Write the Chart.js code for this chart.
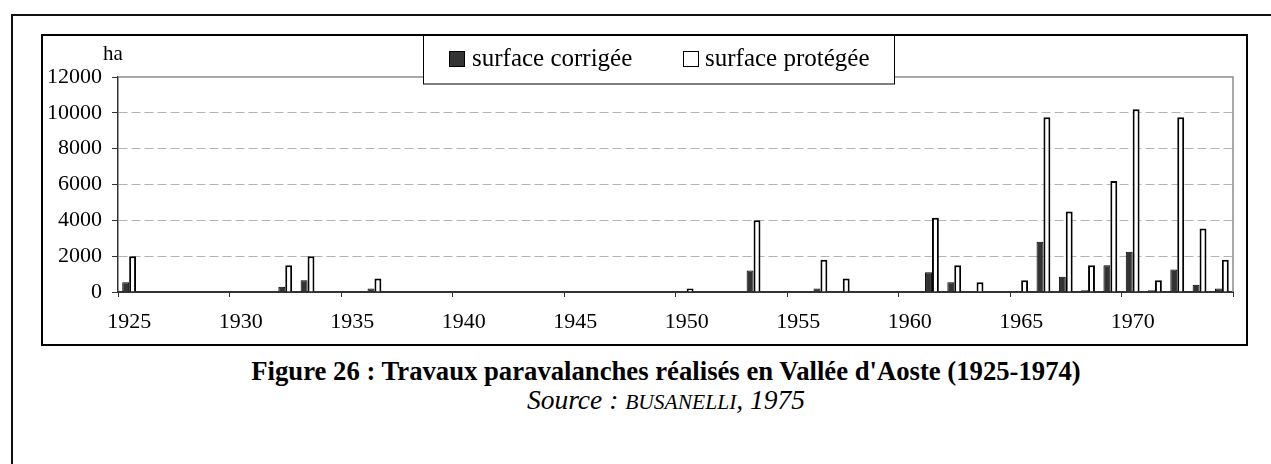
<!DOCTYPE html>
<html>
<head>
<meta charset="utf-8">
<script src="https://cdn.jsdelivr.net/npm/chart.js@4.4.0/dist/chart.umd.min.js"></script>
<style>
  html, body { margin: 0; padding: 0; background: #fff; overflow: hidden; width: 1271px; height: 464px; }
  body { position: relative; font-family: 'Liberation Serif', 'Times New Roman', serif; }
  #outer { position: absolute; left: 11px; top: 14px; width: 2000px; height: 2000px; border: 2px solid #111; }
  #frame { position: absolute; left: 41px; top: 34px; width: 1203px; height: 308px; border: 2px solid #000; }
  #chart { display: block; }
  .cap { position: absolute; left: 166px; width: 1000px; text-align: center; white-space: nowrap; color: #000; }
  #title { top: 358px; font-size: 26.7px; line-height: 26.7px; font-weight: bold; }
  #source { top: 386px; font-size: 27.5px; line-height: 27.5px; font-style: italic; }
  #source span { font-size: 21.5px; }
</style>
</head>
<body>
<div id="outer"></div>
<div id="frame"><canvas id="chart" width="1203" height="308"></canvas></div>
<div class="cap" id="title">Figure 26 : Travaux paravalanches réalisés en Vallée d'Aoste (1925-1974)</div>
<div class="cap" id="source">Source : <span>BUSANELLI</span>, 1975</div>
<script>
// years 1925 - 1974
let years = [1925, 1926, 1927, 1928, 1929, 1930, 1931, 1932, 1933, 1934,
             1935, 1936, 1937, 1938, 1939, 1940, 1941, 1942, 1943, 1944,
             1945, 1946, 1947, 1948, 1949, 1950, 1951, 1952, 1953, 1954,
             1955, 1956, 1957, 1958, 1959, 1960, 1961, 1962, 1963, 1964,
             1965, 1966, 1967, 1968, 1969, 1970, 1971, 1972, 1973, 1974];

// surface corrigée (ha)
let corrigee = [550, 0, 0, 0, 0, 0, 0, 300, 650, 0,
                0, 200, 0, 0, 0, 0, 0, 0, 0, 0,
                0, 0, 0, 0, 0, 0, 0, 0, 1200, 0,
                0, 200, 0, 0, 0, 0, 1100, 550, 0, 0,
                0, 2800, 850, 100, 1500, 2250, 100, 1250, 400, 200];

// surface protégée (ha)
let protegee = [2000, 0, 0, 0, 0, 0, 0, 1500, 2000, 0,
                0, 750, 0, 0, 0, 0, 0, 0, 0, 0,
                0, 0, 0, 0, 0, 200, 0, 0, 4000, 0,
                0, 1800, 750, 0, 0, 0, 4150, 1500, 550, 0,
                650, 9750, 4500, 1500, 6200, 10200, 650, 9750, 3550, 1800];

let yMin = 0;
let yMax = 12000;
let yStep = 2000;
let labelEvery = 5;
let unitLabel = 'ha';

const serif = "'Liberation Serif', 'Times New Roman', serif";
Chart.defaults.font.family = serif;
Chart.defaults.color = '#000';

function shownTick(index) {
    return index === undefined || index % labelEvery === 0;
}

// frame of the plot, unit label and the boxed legend
const decorations = {
    id: 'decorations',
    afterDraw(chart) {
        const ctx = chart.ctx;
        const area = chart.chartArea;
        ctx.save();
        ctx.strokeStyle = '#8c8c8c';
        ctx.lineWidth = 1.5;
        ctx.beginPath();
        ctx.moveTo(area.left, area.top);
        ctx.lineTo(area.right, area.top);
        ctx.lineTo(area.right, area.bottom);
        ctx.stroke();

        ctx.fillStyle = '#000';
        ctx.font = '21px ' + serif;
        ctx.textBaseline = 'alphabetic';
        ctx.textAlign = 'left';
        ctx.fillText(unitLabel, 60, 24);

        // legend
        ctx.fillStyle = '#fff';
        ctx.fillRect(380, 0, 471, 48);
        ctx.strokeStyle = '#000';
        ctx.lineWidth = 1;
        ctx.strokeRect(380.5, -1, 471, 49);
        const items = [{x: 406, textX: 429}, {x: 640, textX: 662}];
        ctx.font = '25px ' + serif;
        chart.data.datasets.forEach((ds, i) => {
            const it = items[i];
            ctx.fillStyle = ds.backgroundColor;
            ctx.fillRect(it.x, 15, 16, 16);
            ctx.strokeStyle = '#000';
            ctx.lineWidth = 1;
            ctx.strokeRect(it.x + 0.5, 15.5, 15, 15);
            ctx.fillStyle = '#000';
            ctx.fillText(ds.label, it.textX, 30);
        });
        ctx.restore();
    }
};

let ctx = document.getElementById('chart');
let myChart = new Chart(ctx, {
    type: 'bar',
    data: {
        labels: years,
        datasets: [{
            label: 'surface corrigée',
            data: corrigee,
            backgroundColor: '#333333',
            borderColor: '#000000',
            borderWidth: 1
        }, {
            label: 'surface protégée',
            data: protegee,
            backgroundColor: '#ffffff',
            borderColor: '#000000',
            borderWidth: 2
        }]
    },
    options: {
        responsive: false,
        animation: false,
        devicePixelRatio: 1,
        layout: { padding: { top: 41, right: 13, left: 0, bottom: 0 } },
        datasets: { bar: { categoryPercentage: 0.62, barPercentage: 1.0 } },
        plugins: {
            legend: { display: false },
            tooltip: { enabled: false }
        },
        scales: {
            x: {
                afterFit(scale) { scale.height = 52; },
                grid: {
                    offset: true,
                    drawOnChartArea: false,
                    drawTicks: true,
                    tickLength: 5,
                    lineWidth: 1,
                    tickColor: (c) => shownTick(c.index) ? '#333' : 'rgba(0,0,0,0)'
                },
                border: { color: '#333', width: 2 },
                ticks: {
                    autoSkip: false,
                    maxRotation: 0,
                    padding: 12,
                    font: { size: 22 },
                    color: '#000',
                    callback: function (value, index) {
                        return index % labelEvery === 0 ? this.getLabelForValue(value) : '';
                    }
                }
            },
            y: {
                min: yMin,
                max: yMax,
                afterFit(scale) { scale.width = 75; },
                grid: {
                    color: (c) => (c.tick && (c.tick.value === yMin || c.tick.value === yMax)) ? 'rgba(0,0,0,0)' : '#b4b4b4',
                    lineWidth: 1,
                    drawTicks: true,
                    tickLength: 6,
                    tickColor: '#333'
                },
                border: { color: '#333', width: 1.5, dash: [9, 4] },
                ticks: {
                    stepSize: yStep,
                    padding: 10,
                    font: { size: 22 },
                    color: '#000',
                    callback: (value) => String(value)
                }
            }
        }
    },
    plugins: [decorations]
});
</script>
</body>
</html>
